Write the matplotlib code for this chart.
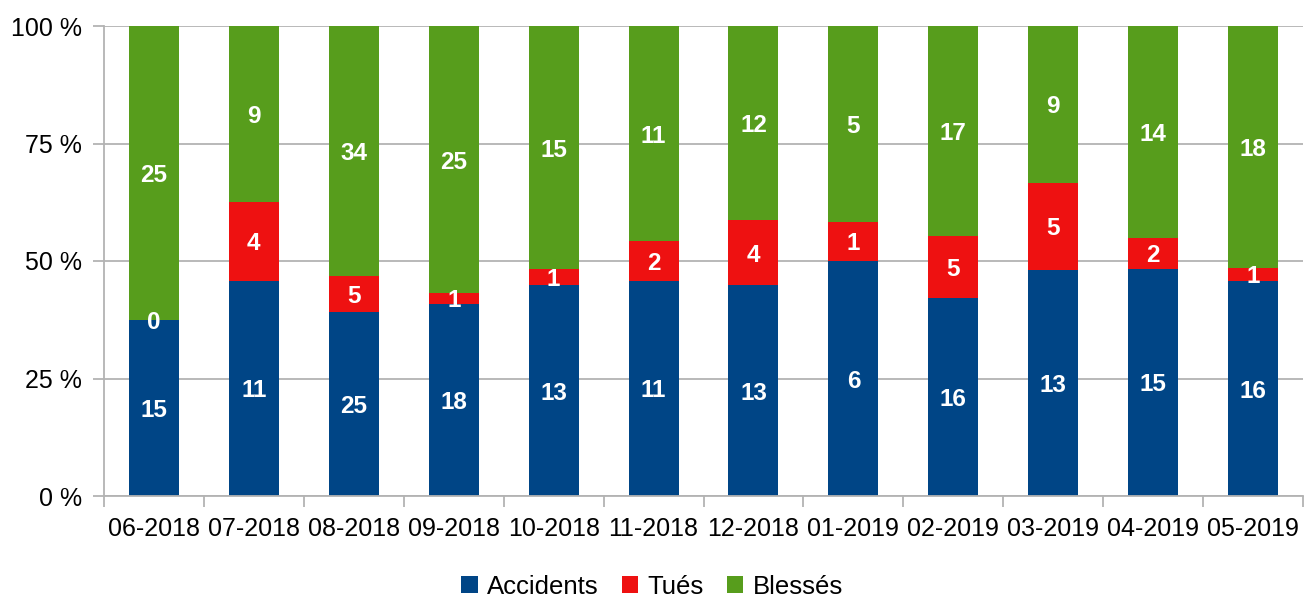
import numpy as np
import matplotlib.pyplot as plt
from matplotlib.ticker import FixedLocator

plt.rcParams["font.family"] = ["Liberation Sans", "DejaVu Sans"]

mois = ["06-2018", "07-2018", "08-2018", "09-2018", "10-2018", "11-2018",
        "12-2018", "01-2019", "02-2019", "03-2019", "04-2019", "05-2019"]
accidents = [15, 11, 25, 18, 13, 11, 13, 6, 16, 13, 15, 16]
tues = [0, 4, 5, 1, 1, 2, 4, 1, 5, 5, 2, 1]
blesses = [25, 9, 34, 25, 15, 11, 12, 5, 17, 9, 14, 18]

series = [("Accidents", accidents, "#004586"),
          ("Tués", tues, "#ee1111"),
          ("Blessés", blesses, "#579d1c")]

total = np.array(accidents) + np.array(tues) + np.array(blesses)
x = np.arange(len(mois))

fig = plt.figure(figsize=(13.04, 6.05), dpi=100)
ax = fig.add_axes([104 / 1304, 109 / 605, 1199 / 1304, 470 / 605])

bottom = np.zeros(len(mois))
for nom, vals, col in series:
    pct = np.array(vals) / total * 100
    ax.bar(x, pct, 0.5, bottom=bottom, color=col, label=nom, zorder=2)
    for xi, b, h, v in zip(x, bottom, pct, vals):
        ax.text(xi, b + h / 2, str(v), ha="center", va="center_baseline",
                color="white", fontsize=17.5, fontweight="bold", zorder=3)
    bottom += pct

ax.set_xlim(-0.5, len(mois) - 0.5)
ax.set_ylim(0, 100)
ax.set_yticks([0, 25, 50, 75, 100])
ax.set_yticklabels(["0 %", "25 %", "50 %", "75 %", "100 %"])
ax.set_xticks(x)
ax.set_xticklabels(mois)
ax.xaxis.set_minor_locator(FixedLocator(np.arange(-0.5, len(mois), 1)))
ax.tick_params(axis="x", which="major", length=0, pad=15, labelsize=18)
ax.tick_params(axis="x", which="minor", length=8, color="#b3b3b3", width=1.3)
ax.tick_params(axis="y", length=8, color="#b3b3b3", width=1.3, pad=8, labelsize=18)

ax.grid(axis="y", color="#b3b3b3", linewidth=1.3, zorder=0)
for s in ["top", "right"]:
    ax.spines[s].set_visible(False)
for s in ["left", "bottom"]:
    ax.spines[s].set_color("#b3b3b3")
    ax.spines[s].set_linewidth(1.3)

fig.legend(loc="lower center", bbox_to_anchor=(0.5, -0.028), ncol=3, frameon=False,
           fontsize=18.5, handlelength=0.65, handleheight=0.65, handletextpad=0.35,
           columnspacing=0.9)

fig.savefig("out.png", dpi=100)
